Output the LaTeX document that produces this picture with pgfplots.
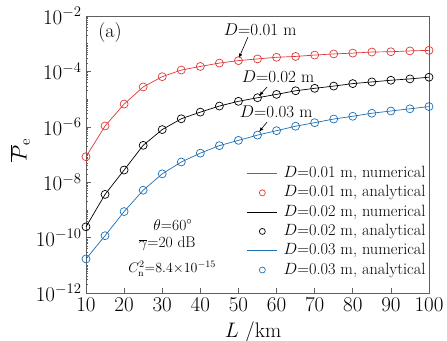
\RequirePackage{fix-cm}
\documentclass[border=0pt]{standalone}
\usepackage{pgfplots}
\pgfplotsset{compat=1.18}
\definecolor{cred}{RGB}{222,56,56}
\definecolor{cblue}{RGB}{28,110,180}
\definecolor{cgray}{RGB}{95,95,95}
\pgfplotsset{
  lineleg/.style={legend image code/.code={\draw[##1,line width=0.5pt] (0pt,0pt) -- (30pt,0pt);}},
  markleg/.style={legend image code/.code={\draw[##1,mark size=3pt] plot coordinates {(15pt,0pt)};}},
}
\pgfplotstableread{
L P
10 8.32e-8
15 1.07e-6
20 6.61e-6
25 2.75e-5
30 6.46e-5
35 1.12e-4
40 1.51e-4
45 2.00e-4
50 2.45e-4
55 2.82e-4
60 3.24e-4
65 3.47e-4
70 3.89e-4
75 4.27e-4
80 4.57e-4
85 5.01e-4
90 5.13e-4
95 5.50e-4
100 5.75e-4
}\redtab
\pgfplotstableread{
L P
10 2.45e-10
15 3.63e-9
20 2.75e-8
25 2.14e-7
30 7.94e-7
35 1.95e-6
40 3.39e-6
45 5.62e-6
50 8.32e-6
55 1.12e-5
60 1.48e-5
65 2.00e-5
70 2.45e-5
75 2.95e-5
80 3.63e-5
85 4.17e-5
90 4.79e-5
95 5.37e-5
100 6.17e-5
}\blacktab
\pgfplotstableread{
L P
10 1.70e-11
15 1.17e-10
20 8.71e-10
25 5.13e-9
30 2.00e-8
35 5.37e-8
40 1.12e-7
45 2.09e-7
50 3.24e-7
55 5.01e-7
60 7.24e-7
65 1.05e-6
70 1.41e-6
75 1.91e-6
80 2.40e-6
85 3.09e-6
90 3.72e-6
95 4.47e-6
100 5.37e-6
}\bluetab
\begin{document}
\begin{tikzpicture}
\useasboundingbox (-86pt,-47pt) rectangle (361pt,293pt);
\begin{axis}[
  at={(0,0)}, anchor=south west,
  scale only axis, width=343pt, height=277pt,
  xmin=10, xmax=100, ymin=1e-12, ymax=1e-2, ymode=log,
  xtick={10,20,...,100},
  ytick={1e-12,1e-10,1e-8,1e-6,1e-4,1e-2},
  minor ytick={2e-12,3e-12,4e-12,5e-12,6e-12,7e-12,8e-12,9e-12,1e-11,
    2e-11,3e-11,4e-11,5e-11,6e-11,7e-11,8e-11,9e-11,
    2e-10,3e-10,4e-10,5e-10,6e-10,7e-10,8e-10,9e-10,1e-9,
    2e-9,3e-9,4e-9,5e-9,6e-9,7e-9,8e-9,9e-9,
    2e-8,3e-8,4e-8,5e-8,6e-8,7e-8,8e-8,9e-8,1e-7,
    2e-7,3e-7,4e-7,5e-7,6e-7,7e-7,8e-7,9e-7,
    2e-6,3e-6,4e-6,5e-6,6e-6,7e-6,8e-6,9e-6,1e-5,
    2e-5,3e-5,4e-5,5e-5,6e-5,7e-5,8e-5,9e-5,
    2e-4,3e-4,4e-4,5e-4,6e-4,7e-4,8e-4,9e-4,1e-3,
    2e-3,3e-3,4e-3,5e-3,6e-3,7e-3,8e-3,9e-3},
  tick align=inside, xtick pos=bottom, ytick pos=left,
  major tick length=5pt, minor tick length=2.5pt,
  axis line style={cgray, line width=0.8pt},
  every tick/.style={cgray, line width=0.6pt},
  tick label style={font=\fontsize{21}{23}\selectfont},
  xticklabel style={yshift=-1pt},
  yticklabel style={xshift=-1pt},
  xlabel={$L$ /km}, ylabel={$\overline{P}_{\mathrm{e}}$},
  label style={font=\fontsize{21}{23}\selectfont},
  xlabel style={at={(axis description cs:0.487,-0.141)}, anchor=center},
  ylabel style={at={(axis description cs:-0.192,0.516)}, anchor=center},
  legend style={at={(1.005,0.47)}, anchor=north east, draw=none, fill=none,
    font=\fontsize{16.3}{18}\selectfont, row sep=2.3pt,
    nodes={inner sep=2pt, text height=10.5pt, text depth=2.5pt},
    /tikz/every odd column/.style={column sep=4pt},
    cells={anchor=west}},
  legend cell align=left,
]
\addplot[cred, line width=0.7pt, lineleg] table[x=L,y=P] {\redtab};
\addlegendentry{$D$=0.01 m, numerical}
\addplot[cred, only marks, mark=o, mark size=4pt, mark options={line width=0.7pt}, markleg] table[x=L,y=P] {\redtab};
\addlegendentry{$D$=0.01 m, analytical}
\addplot[black, line width=0.7pt, lineleg] table[x=L,y=P] {\blacktab};
\addlegendentry{$D$=0.02 m, numerical}
\addplot[black, only marks, mark=o, mark size=4pt, mark options={line width=0.7pt}, markleg] table[x=L,y=P] {\blacktab};
\addlegendentry{$D$=0.02 m, analytical}
\addplot[cblue, line width=0.7pt, lineleg] table[x=L,y=P] {\bluetab};
\addlegendentry{$D$=0.03 m, numerical}
\addplot[cblue, only marks, mark=o, mark size=4pt, mark options={line width=0.7pt}, markleg] table[x=L,y=P] {\bluetab};
\addlegendentry{$D$=0.03 m, analytical}
\node[font=\fontsize{20}{22}\selectfont] at (axis cs:16.3,2.6e-3) {(a)};
\node[font=\fontsize{17}{19}\selectfont] at (axis cs:55.7,3.13e-3) {$D$=0.01 m};
\node[font=\fontsize{17}{19}\selectfont] at (axis cs:60.4,6.3e-5) {$D$=0.02 m};
\node[font=\fontsize{17}{19}\selectfont] at (axis cs:59.9,3.4e-6) {$D$=0.03 m};
\draw[-latex, line width=0.6pt] (axis cs:52.5,1.74e-3) -- (axis cs:50.1,3.0e-4);
\draw[-latex, line width=0.6pt] (axis cs:57.5,2.75e-5) -- (axis cs:55.4,1.29e-5);
\draw[-latex, line width=0.6pt] (axis cs:57.5,1.48e-6) -- (axis cs:55.4,6.5e-7);
\node[font=\fontsize{15.5}{17}\selectfont, inner sep=0pt] at (axis cs:32.8,2.8e-10) {$\theta$=60$^\circ$};
\node[font=\fontsize{15.5}{17}\selectfont, inner sep=0pt] at (axis cs:31.3,5.9e-11) {$\overline{\gamma}$=20 dB};
\node[font=\fontsize{14}{16}\selectfont, inner sep=0pt] at (axis cs:32.6,7.4e-12) {$C_{\mathrm{n}}^{2}$=8.4$\times$10$^{-15}$};
\end{axis}
\end{tikzpicture}
\end{document}
